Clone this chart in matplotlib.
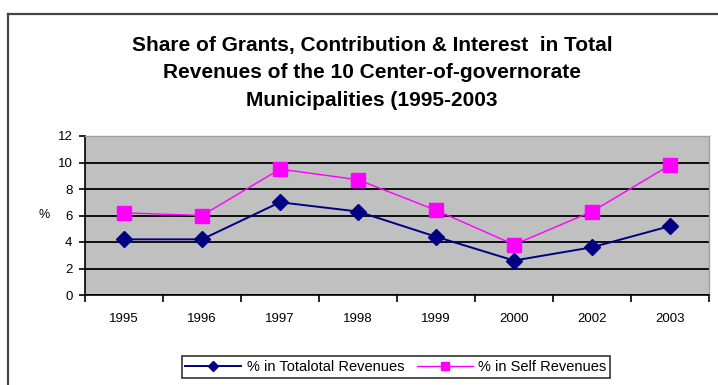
import matplotlib
matplotlib.use("Agg")
import matplotlib.pyplot as plt
from matplotlib.lines import Line2D
from matplotlib.ticker import FixedLocator, NullFormatter

years = ["1995", "1996", "1997", "1998", "1999", "2000", "2002", "2003"]
total_share = [4.2, 4.2, 7.0, 6.3, 4.4, 2.6, 3.6, 5.2]
self_share = [6.2, 6.0, 9.5, 8.7, 6.4, 3.8, 6.3, 9.8]
series_names = ["% in Totalotal Revenues", "% in Self Revenues"]
title = ("Share of Grants, Contribution & Interest  in Total\n"
         "Revenues of the 10 Center-of-governorate\n"
         "Municipalities (1995-2003")

plt.rcParams["font.family"] = ["Liberation Sans", "DejaVu Sans"]

W, H = 718, 385
fig = plt.figure(figsize=(W / 100, H / 100), dpi=100)
fig.patch.set_facecolor("white")

# outer chart frame (left and top edges visible)
fig.add_artist(Line2D([8 / W, 8 / W], [0, 1 - 14 / H], transform=fig.transFigure,
                      color="#444444", lw=1.6))
fig.add_artist(Line2D([8 / W, 1], [1 - 14 / H, 1 - 14 / H], transform=fig.transFigure,
                      color="#444444", lw=1.6))

left, right, top, bottom = 85, 709, 136, 295
ax = fig.add_axes([left / W, 1 - bottom / H, (right - left) / W, (bottom - top) / H])
ax.set_facecolor("#C0C0C0")

x = list(range(len(years)))
ax.plot(x, total_share, color="#000080", lw=1.4, marker="D", markersize=8.5,
        label=series_names[0], zorder=3)
ax.plot(x, self_share, color="#FF00FF", lw=1.0, marker="s", markersize=10,
        label=series_names[1], zorder=3)

ax.set_xlim(-0.5, len(years) - 0.5)
ax.set_ylim(0, 12)
ax.set_yticks(range(0, 13, 2))
ax.yaxis.grid(True, color="black", lw=1.3)
ax.set_axisbelow(True)

ax.xaxis.set_major_locator(FixedLocator([i - 0.5 for i in range(len(years) + 1)]))
ax.xaxis.set_major_formatter(NullFormatter())
ax.xaxis.set_minor_locator(FixedLocator(x))
ax.set_xticklabels(years, minor=True)
ax.tick_params(axis="x", which="major", length=5, width=1.2, color="black")
ax.tick_params(axis="x", which="minor", length=0, pad=13, labelsize=9.5)
ax.tick_params(axis="y", length=4, width=1.2, labelsize=9.5, pad=5)

for side in ("top", "right"):
    ax.spines[side].set_color("#A0A0A0")
    ax.spines[side].set_linewidth(1.0)
for side in ("left", "bottom"):
    ax.spines[side].set_color("black")
    ax.spines[side].set_linewidth(1.2)

ax.set_ylabel("%", rotation=0, fontsize=9, labelpad=10, va="center")

fig.text(372 / W, 1 - 73 / H, title, ha="center", va="center", fontsize=15,
         fontweight="bold", linespacing=1.6)

leg = fig.legend(loc="center", bbox_to_anchor=(396 / W, 1 - 367 / H), ncol=2,
                 frameon=True, fancybox=False, fontsize=10.5, handlelength=3.8,
                 columnspacing=0.9, borderpad=0.25, handletextpad=0.4,
                 markerscale=0.6)
leg.get_frame().set_edgecolor("black")
leg.get_frame().set_linewidth(1.2)

fig.savefig("out.png", dpi=100)
